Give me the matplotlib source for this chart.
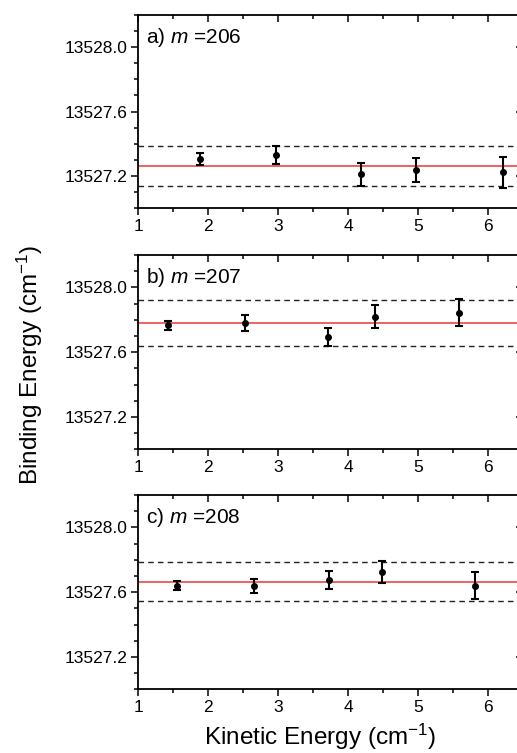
import numpy as np
import matplotlib
matplotlib.use('Agg')
import matplotlib.pyplot as plt
from matplotlib.ticker import MultipleLocator

plt.rcParams['font.family'] = ['Liberation Sans', 'DejaVu Sans']
plt.rcParams['mathtext.fontset'] = 'custom'
plt.rcParams['mathtext.rm'] = 'Liberation Sans'
plt.rcParams['mathtext.it'] = 'Liberation Sans:italic'

# data
labels = ['a)', 'b)', 'c)']
masses = [206, 207, 208]

ke_a = [1.88, 2.97, 4.18, 4.97, 6.21]
be_a = [13527.303, 13527.330, 13527.210, 13527.237, 13527.222]
err_a = [0.036, 0.054, 0.071, 0.074, 0.096]

ke_b = [1.43, 2.52, 3.71, 4.38, 5.59]
be_b = [13527.766, 13527.778, 13527.692, 13527.819, 13527.844]
err_b = [0.029, 0.050, 0.056, 0.070, 0.085]

ke_c = [1.56, 2.66, 3.73, 4.48, 5.81]
be_c = [13527.641, 13527.637, 13527.674, 13527.723, 13527.641]
err_c = [0.025, 0.042, 0.054, 0.068, 0.084]

means = [13527.262, 13527.780, 13527.665]
spreads = [0.126, 0.140, 0.121]

kes = [ke_a, ke_b, ke_c]
bes = [be_a, be_b, be_c]
errs = [err_a, err_b, err_c]

fig = plt.figure(figsize=(5.17, 7.53), dpi=100)

W, H = 517.0, 753.0
left_px, right_px = 138.3, 523.0
panels_px = [(15, 208), (255, 449.3), (495, 689.3)]

for i, (top, bot) in enumerate(panels_px):
    ax = fig.add_axes([left_px / W, 1 - bot / H, (right_px - left_px) / W, (bot - top) / H])
    ax.axhline(means[i], color='#ee5555', lw=1.3, zorder=1)
    ax.axhline(means[i] + spreads[i], color='#222222', lw=1.0, ls=(0, (4, 3)), zorder=1)
    ax.axhline(means[i] - spreads[i], color='#222222', lw=1.0, ls=(0, (4, 3)), zorder=1)
    ax.errorbar(kes[i], bes[i], yerr=errs[i], fmt='o', color='black', ms=4,
                elinewidth=1.5, capsize=3.2, capthick=1.5, zorder=3)
    ax.set_xlim(1, 6.5)
    ax.set_ylim(13527.0, 13528.2)
    ax.xaxis.set_major_locator(MultipleLocator(1))
    ax.xaxis.set_minor_locator(MultipleLocator(0.5))
    ax.yaxis.set_minor_locator(MultipleLocator(0.1))
    ax.set_yticks([13527.2, 13527.6, 13528.0])
    ax.set_yticklabels(['13527.2', '13527.6', '13528.0'])
    ax.tick_params(axis='both', which='major', direction='out', length=5, width=1.1,
                   labelsize=12.5, pad=3)
    ax.tick_params(axis='both', which='minor', direction='out', length=3, width=1.1)
    ax.tick_params(which='both', top=True, right=True)
    for sp in ax.spines.values():
        sp.set_linewidth(1.3)
    # mirror ticks on top/right point inward
    for t in ax.xaxis.get_major_ticks() + ax.xaxis.get_minor_ticks():
        t.tick2line.set_marker(matplotlib.lines.TICKDOWN)
    for t in ax.yaxis.get_major_ticks() + ax.yaxis.get_minor_ticks():
        t.tick2line.set_marker(matplotlib.lines.TICKLEFT)
    ax.text(0.02, 0.883, f'{labels[i]} $m$ ={masses[i]}', transform=ax.transAxes,
            ha='left', va='center', fontsize=15)

fig.text(30 / W, 1 - 365 / H, 'Binding Energy (cm$^{-1}$)', rotation=90,
         ha='center', va='center', fontsize=17.5)
fig.text(320 / W, 1 - 737 / H, 'Kinetic Energy (cm$^{-1}$)',
         ha='center', va='center', fontsize=17.5)

fig.savefig('out.png', dpi=100)
